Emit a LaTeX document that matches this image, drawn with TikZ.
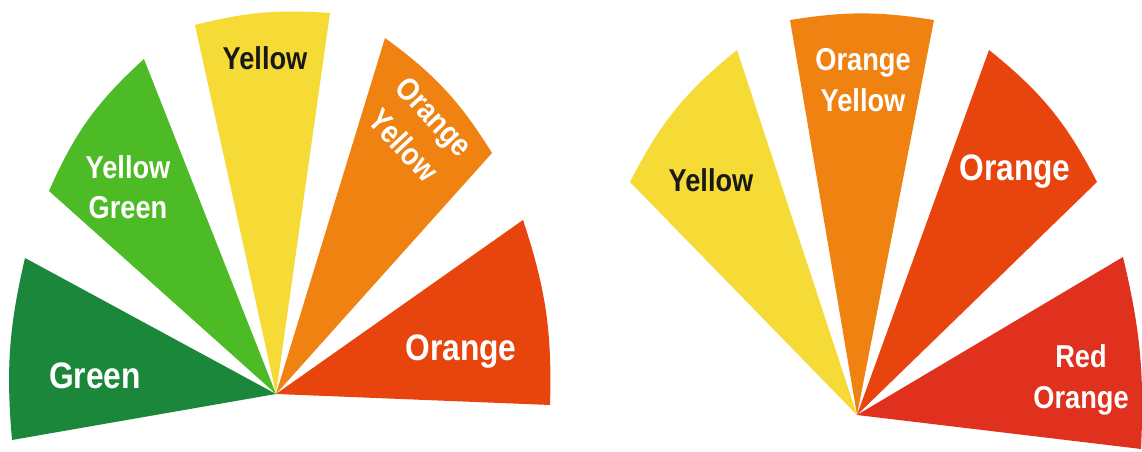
\documentclass[tikz,border=0pt]{standalone}
\usepackage{fontspec}
\setmainfont[FakeStretch=0.86]{Liberation Sans}
\usepackage{xcolor}
\usepackage{tikz}
\definecolor{greendark}{HTML}{1B873A}
\definecolor{greenlight}{HTML}{4CBB26}
\definecolor{yellowmain}{HTML}{F6DA36}
\definecolor{orangeyellow}{HTML}{F08211}
\definecolor{orangemain}{HTML}{E8440E}
\definecolor{redorange}{HTML}{E0311F}

\begin{document}
\begin{tikzpicture}[x=0.02cm, y=0.02cm,
    lbl/.style={text=white, align=center, font=\fontsize{18}{23}\selectfont\bfseries},
    lblbig/.style={lbl, font=\fontsize{21}{25}\selectfont\bfseries},
    lbldark/.style={lbl, text=black!90}]
      \useasboundingbox (0,0) rectangle (1142,452);
      \coordinate (apexL) at (276,58);
      \coordinate (apexR) at (857,37);

      % left fan
      \fill[greendark] (apexL) -- (25,194) to[bend right=9] (12,12) -- cycle;
      \fill[greenlight] (apexL) -- (144,393) to[bend right=12] (49,261) -- cycle;
      \fill[yellowmain] (apexL) -- (330,439) to[bend right=9] (195,427) -- cycle;
      \fill[orangeyellow] (apexL) -- (492,299) to[bend right=11] (385,414) -- cycle;
      \fill[orangemain] (apexL) -- (550,47) to[bend right=10] (523,232) -- cycle;

      \node[lblbig] (greenL) at (95,76) {Green};
      \node[lbl] (yelgreenL) at (128,265) {Yellow\\Green};
      \node[lbldark] (yellowL) at (265,394) {Yellow};
      \node[lbl, rotate=-47, font=\fontsize{18}{24}\selectfont\bfseries] (orgyelL) at (419,321) {Orange\\Yellow};
      \node[lblbig] (orangeL) at (461,100) {Orange};

      % right fan
      \fill[yellowmain] (apexR) -- (737,402) to[bend right=12] (630,270) -- cycle;
      \fill[orangeyellow] (apexR) -- (934,432) to[bend right=9] (790,432) -- cycle;
      \fill[orangemain] (apexR) -- (1097,270) to[bend right=12] (989,402) -- cycle;
      \fill[redorange] (apexR) -- (1141,3) to[bend right=8] (1123,195) -- cycle;

      \node[lbldark] (yellowR) at (711,272) {Yellow};
      \node[lbl] (orgyelR) at (863,372) {Orange\\Yellow};
      \node[lblbig] (orangeR) at (1015,280) {Orange};
      \node[lbl] (redorgR) at (1081,72) {Red\\Orange};
    \end{tikzpicture}
\end{document}
